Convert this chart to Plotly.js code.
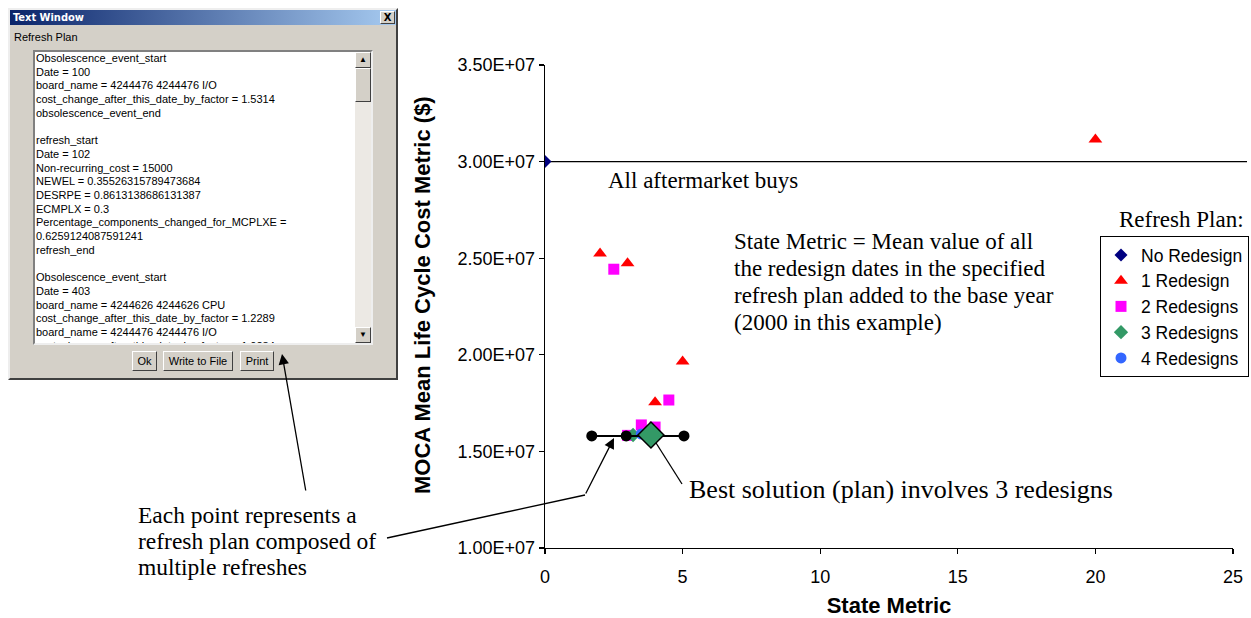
<!DOCTYPE html>
<html>
<head>
<meta charset="utf-8">
<script src="https://cdn.plot.ly/plotly-3.0.1.min.js"></script>
<style>
  html,body{margin:0;padding:0;background:#fff;}
  body{width:1251px;height:618px;overflow:hidden;position:relative;font-family:'Liberation Sans',Arial,sans-serif;}
  #chart{position:absolute;left:0;top:0;width:1251px;height:618px;z-index:2;}
  #win{position:absolute;left:8px;top:8px;width:390px;height:372px;background:#D4D0C8;box-sizing:border-box;
       border:2px solid;border-color:#eeeeee #404040 #404040 #eeeeee;z-index:1;font-size:11px;color:#000;}
  #titlebar{position:absolute;left:0;top:0;width:386px;height:15px;background:linear-gradient(to right,#0A246A,#A6CAF0);}
  #titletext{position:absolute;left:3px;top:0px;line-height:15px;color:#fff;font-weight:bold;font-size:11px;font-family:'DejaVu Sans Condensed','DejaVu Sans',sans-serif;}
  #closebtn{position:absolute;left:370px;top:1px;width:13px;height:11px;background:#D4D0C8;border:1px solid;border-color:#fff #404040 #404040 #fff;
            font-size:10px;line-height:11px;text-align:center;font-weight:bold;font-family:'DejaVu Sans',sans-serif;}
  #label{position:absolute;left:4px;top:21px;line-height:13px;}
  #textarea{position:absolute;left:23px;top:40px;width:340px;height:295px;background:#fff;box-sizing:border-box;
            border:2px solid;border-color:#808080 #eeeeee #eeeeee #808080;overflow:hidden;}
  #lines{position:absolute;left:1px;top:0px;white-space:pre;line-height:13.7px;font-size:11px;}
  #scroll{position:absolute;right:0;top:0;width:16px;height:291px;background:#ECE9E4;}
  .sbtn{position:absolute;left:0;width:14px;height:14px;background:#D4D0C8;border:1px solid;border-color:#fff #404040 #404040 #fff;
        font-size:8px;line-height:14px;text-align:center;}
  #thumb{position:absolute;left:0;top:16px;width:14px;height:32px;background:#D4D0C8;border:1px solid;border-color:#fff #404040 #404040 #fff;}
  .btn{position:absolute;top:341px;height:18px;background:#D4D0C8;border:1px solid;border-color:#fff #404040 #404040 #fff;
       font-size:11px;line-height:18px;text-align:center;}
</style>
</head>
<body>
<div id="win">
  <div id="titlebar"><div id="titletext">Text Window</div><div id="closebtn">X</div></div>
  <div id="label">Refresh Plan</div>
  <div id="textarea">
    <div id="lines"></div>
    <div id="scroll">
      <div class="sbtn" style="top:0">▲</div>
      <div id="thumb"></div>
      <div class="sbtn" style="bottom:0">▼</div>
    </div>
  </div>
  <div class="btn" style="left:122px;width:23px;">Ok</div>
  <div class="btn" style="left:153px;width:68px;">Write to File</div>
  <div class="btn" style="left:230px;width:32px;">Print</div>
</div>
<div id="chart"></div>
<script>
// ---- Text window content ----
const windowLines = [
  'Obsolescence_event_start',
  'Date = 100',
  'board_name = 4244476 4244476 I/O',
  'cost_change_after_this_date_by_factor = 1.5314',
  'obsolescence_event_end',
  '',
  'refresh_start',
  'Date = 102',
  'Non-recurring_cost = 15000',
  'NEWEL = 0.35526315789473684',
  'DESRPE = 0.8613138686131387',
  'ECMPLX = 0.3',
  'Percentage_components_changed_for_MCPLXE =',
  '0.6259124087591241',
  'refresh_end',
  '',
  'Obsolescence_event_start',
  'Date = 403',
  'board_name = 4244626 4244626 CPU',
  'cost_change_after_this_date_by_factor = 1.2289',
  'board_name = 4244476 4244476 I/O',
  'cost_change_after_this_date_by_factor = 1.0284'
];
document.getElementById('lines').textContent = windowLines.join('\n');

// ---- Chart data ----
const noRedesignX = [0];
const noRedesignY = [3.0e7];
const oneRedesignX = [2.0, 3.0, 5.0, 4.0, 20.0];
const oneRedesignY = [2.524e7, 2.474e7, 1.965e7, 1.754e7, 3.115e7];
const twoRedesignsX = [2.5, 4.5, 3.5, 4.0, 3.0];
const twoRedesignsY = [2.443e7, 1.766e7, 1.637e7, 1.626e7, 1.583e7];
const threeRedesignsX = [3.2];
const threeRedesignsY = [1.585e7];
const fourRedesignsX = [3.5];
const fourRedesignsY = [1.59e7];
const bestX = [3.85];
const bestY = [1.585e7];
const rangeX = [1.7, 2.95, 5.05];
const rangeY = [1.58e7, 1.58e7, 1.58e7];
const legendNames = ['No Redesign', '1 Redesign', '2 Redesigns', '3 Redesigns', '4 Redesigns'];
const yTickVals = [1.0e7, 1.5e7, 2.0e7, 2.5e7, 3.0e7, 3.5e7];
const yTickText = ['1.00E+07', '1.50E+07', '2.00E+07', '2.50E+07', '3.00E+07', '3.50E+07'];
const xTickVals = [0, 5, 10, 15, 20, 25];
const xTickText = ['0', '5', '10', '15', '20', '25'];

// annotation texts
const stateMetricLines = ['State Metric = Mean value of all', 'the redesign dates in the specified',
                          'refresh plan added to the base year', '(2000 in this example)'];
const eachPointLines = ['Each point represents a', 'refresh plan composed of', 'multiple refreshes'];

// layout helpers (page pixel -> paper coordinates)
const L = 545, T = 65, W = 688, H = 483, FW = 1251, FH = 618;
const px = x => (x - L) / W;
const py = y => (T + H - y) / H;

const SANS = 'Liberation Sans, Arial, sans-serif';
const SERIF = 'Liberation Serif, Times New Roman, serif';

const traces = [
  {x: noRedesignX, y: noRedesignY, name: legendNames[0], type: 'scatter', mode: 'markers',
   marker: {symbol: 'diamond', size: 10, color: '#000080'}},
  {x: oneRedesignX, y: oneRedesignY, name: legendNames[1], type: 'scatter', mode: 'markers',
   marker: {symbol: 'triangle-up', size: 12, color: '#FF0000'}},
  {x: twoRedesignsX, y: twoRedesignsY, name: legendNames[2], type: 'scatter', mode: 'markers',
   marker: {symbol: 'square', size: 11, color: '#FF00FF'}},
  {x: threeRedesignsX, y: threeRedesignsY, name: legendNames[3], type: 'scatter', mode: 'markers',
   marker: {symbol: 'diamond', size: 11, color: '#339966'}},
  {x: fourRedesignsX, y: fourRedesignsY, name: legendNames[4], type: 'scatter', mode: 'markers',
   marker: {symbol: 'circle', size: 11, color: '#3366FF'}},
  {x: rangeX, y: rangeY, type: 'scatter', mode: 'lines+markers', showlegend: false,
   line: {color: '#000', width: 2}, marker: {symbol: 'circle', size: 11, color: '#000'}},
  {x: bestX, y: bestY, type: 'scatter', mode: 'markers', showlegend: false,
   marker: {symbol: 'diamond', size: 20, color: '#339966', line: {color: '#000', width: 1.5}}}
];

const serifFont = {family: SERIF, size: 23, color: '#000'};
const annotations = [
  {xref: 'paper', yref: 'paper', x: px(422), y: py(295), xanchor: 'center', yanchor: 'middle',
   text: '<b>MOCA Mean Life Cycle Cost Metric ($)</b>',
   textangle: -90, showarrow: false, font: {family: SANS, size: 22, color: '#000'}},
  {xref: 'paper', yref: 'paper', x: px(606), y: py(180), xanchor: 'left', yanchor: 'middle',
   text: 'All aftermarket buys', showarrow: false, font: serifFont},
  {xref: 'paper', yref: 'paper', x: px(1181), y: py(219), xanchor: 'center', yanchor: 'middle',
   text: 'Refresh Plan:', showarrow: false, font: serifFont},
  {xref: 'paper', yref: 'paper', x: px(687), y: py(489), xanchor: 'left', yanchor: 'middle',
   text: 'Best solution (plan) involves 3 redesigns', showarrow: false, font: {family: SERIF, size: 26, color: '#000'}},
  // arrow to the cluster
  {xref: 'paper', yref: 'paper', x: px(614), y: py(438), ax: -29, ay: 57, text: '', showarrow: true,
   arrowhead: 2, arrowsize: 1.6, arrowwidth: 1.3, arrowcolor: '#000', standoff: 0, startstandoff: 0},
  // arrow to the Print button
  {xref: 'paper', yref: 'paper', x: px(282), y: py(354), ax: 24, ay: 138, text: '', showarrow: true,
   arrowhead: 2, arrowsize: 1.6, arrowwidth: 1.3, arrowcolor: '#000', standoff: 0, startstandoff: 0}
];
const stateY = [241, 268, 295, 322];
stateMetricLines.forEach((t, i) => annotations.push({xref: 'paper', yref: 'paper', x: px(732), y: py(stateY[i]),
  xanchor: 'left', yanchor: 'middle', text: t, showarrow: false, font: serifFont}));
const eachY = [515, 541, 567];
eachPointLines.forEach((t, i) => annotations.push({xref: 'paper', yref: 'paper', x: px(136), y: py(eachY[i]),
  xanchor: 'left', yanchor: 'middle', text: t, showarrow: false, font: {family: SERIF, size: 23.5, color: '#000'}}));

const shapes = [
  {type: 'line', xref: 'paper', yref: 'y', x0: 0, x1: px(1247), y0: noRedesignY[0], y1: noRedesignY[0],
   line: {color: '#000', width: 1.3}, layer: 'below'},
  {type: 'line', xref: 'paper', yref: 'paper', x0: px(387), y0: py(538), x1: px(585), y1: py(495),
   line: {color: '#000', width: 1.3}},
  {type: 'line', xref: 'paper', yref: 'paper', x0: px(651), y0: py(435), x1: px(682), y1: py(484),
   line: {color: '#000', width: 1.3}, layer: 'below'}
];

const layout = {
  width: FW, height: FH,
  margin: {l: L, r: FW - L - W, t: T, b: FH - T - H, pad: 0, autoexpand: false},
  paper_bgcolor: 'rgba(0,0,0,0)', plot_bgcolor: 'rgba(0,0,0,0)',
  font: {family: SANS, size: 18, color: '#000'},
  showlegend: true,
  legend: {xref: 'container', yref: 'container', x: 1249 / FW, y: 1 - 236 / FH, xanchor: 'right', yanchor: 'top',
           bgcolor: '#fff', bordercolor: '#000', borderwidth: 1,
           font: {family: SANS, size: 17.5, color: '#000'}, tracegroupgap: 0, itemwidth: 30},
  xaxis: {range: [0, 25], tickvals: xTickVals, ticktext: xTickText, showgrid: false, zeroline: false,
          showline: true, linecolor: '#000', linewidth: 1.3, ticks: 'outside', ticklen: 5, tickwidth: 1.3, tickcolor: '#000',
          tickfont: {family: SANS, size: 18}, automargin: false, ticklabelstandoff: 7,
          title: {text: '<b>State Metric</b>', font: {family: SANS, size: 22}, standoff: 12}},
  yaxis: {range: [1.0e7, 3.5e7], tickvals: yTickVals, ticktext: yTickText, showgrid: false, zeroline: false,
          showline: true, linecolor: '#000', linewidth: 1.3, ticks: 'outside', ticklen: 5, tickwidth: 1.3, tickcolor: '#000',
          tickfont: {family: SANS, size: 18}, automargin: false},
  annotations: annotations,
  shapes: shapes
};

Plotly.newPlot('chart', traces, layout, {staticPlot: true, displayModeBar: false});
</script>
</body>
</html>
